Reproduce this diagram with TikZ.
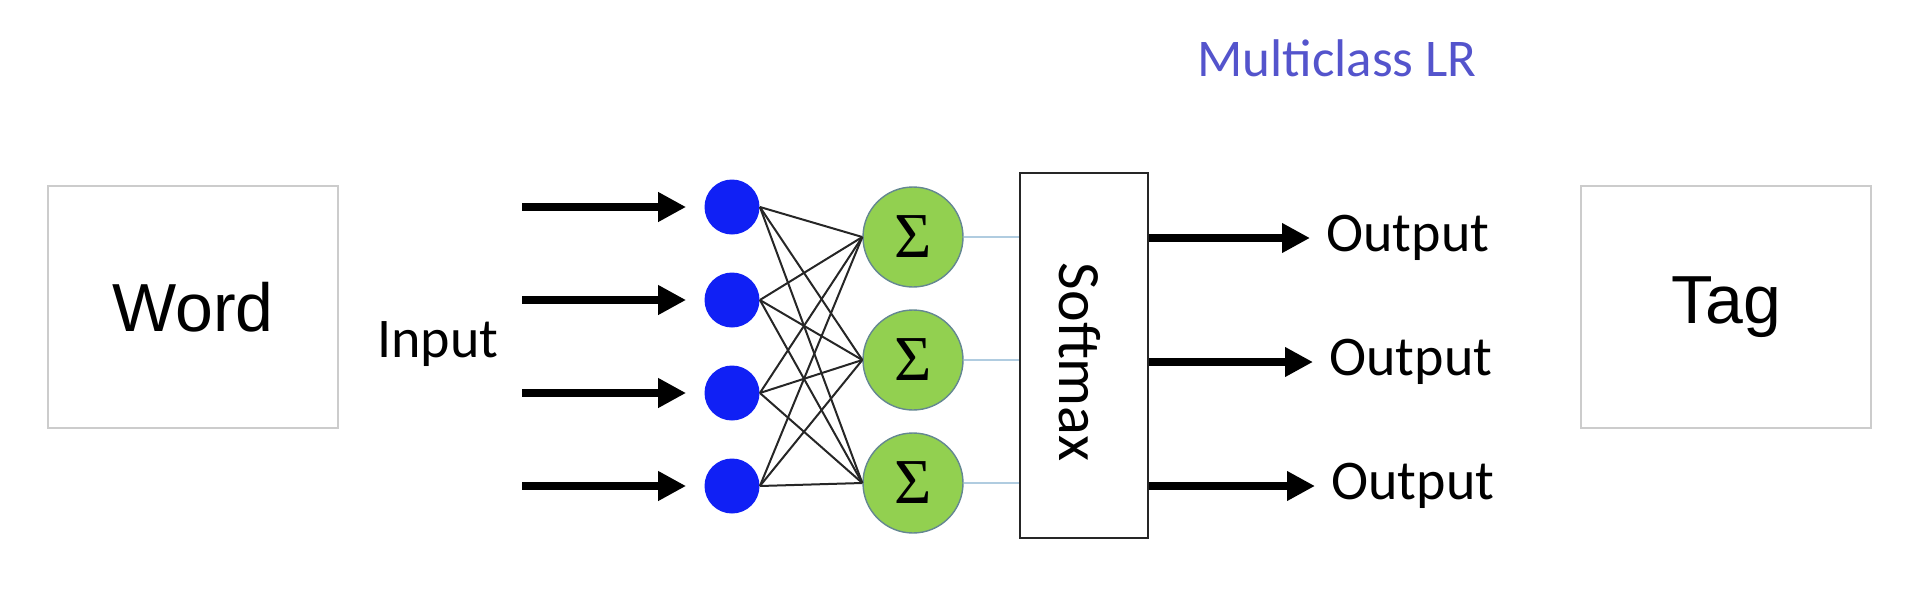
\documentclass[tikz,border=0pt]{standalone}
\usepackage{fontspec}
\setmainfont{Carlito}
\newfontfamily\arialf{Liberation Sans}
\newfontfamily\timesf{Liberation Serif}
\usetikzlibrary{arrows.meta,shapes.geometric}
\definecolor{boxgray}{RGB}{204,204,204}
\definecolor{nodeblue}{RGB}{16,32,245}
\definecolor{sumgreen}{RGB}{146,208,80}
\definecolor{sumedge}{RGB}{100,135,145}
\definecolor{linkblue}{RGB}{176,204,224}
\definecolor{titleblue}{RGB}{84,84,204}
\tikzset{
  bigbox/.style={draw=boxgray,line width=0.8pt,rectangle,minimum width=145pt,minimum height=121pt,inner sep=0pt,font=\arialf\fontsize{34}{40}\selectfont},
  innode/.style={circle,fill=nodeblue,draw=none,minimum size=27.5pt,inner sep=0pt},
  sumnode/.style={circle,fill=sumgreen,draw=sumedge,line width=0.7pt,minimum size=50pt,inner sep=0pt,font=\timesf\fontsize{32}{36}\selectfont},
  smbox/.style={draw=black!85,line width=1pt,rectangle,minimum width=64pt,minimum height=182.5pt,inner sep=0pt},
  lbl/.style={font=\fontsize{28}{32}\selectfont,inner sep=0pt},
  thickarr/.style={line width=4pt,-{Triangle[length=14pt,width=14pt]}},
  weight/.style={line width=1pt,black!85},
  link/.style={line width=0.8pt,linkblue}
}
\begin{document}
\begin{tikzpicture}[x=0.5pt,y=-0.5pt]
\useasboundingbox (0,0) rectangle (1921,594);
% boxes
\node[bigbox] (word) at (193,307) {Word};
\node[bigbox] (tag) at (1726,307) {Tag};
% title
\node[font=\fontsize{26.5}{30}\selectfont,text=titleblue,inner sep=0pt] (title) at (1337,58) {Multiclass LR};
% input label
\node[lbl] (inlbl) at (438,344) {Input};
% input nodes
\node[innode] (b1) at (732,207) {};
\node[innode] (b2) at (732,300) {};
\node[innode] (b3) at (732,393) {};
\node[innode] (b4) at (732,486) {};
% sum nodes
\node[sumnode] (g1) at (913,237) {Σ};
\node[sumnode] (g2) at (913,360) {Σ};
\node[sumnode] (g3) at (913,483) {Σ};
% softmax
\node[smbox] (sm) at (1084,355.5) {};
\node[font=\fontsize{30}{34}\selectfont,rotate=-90,inner sep=0pt] (smtext) at (1080,362) {Softmax};
% outputs
\node[lbl,anchor=west] (o1) at (1326,238) {Output};
\node[lbl,anchor=west] (o2) at (1329,362) {Output};
\node[lbl,anchor=west] (o3) at (1331,486) {Output};
% input arrows
\coordinate (i1) at (522,207);
\coordinate (i2) at (522,300);
\coordinate (i3) at (522,393);
\coordinate (i4) at (522,486);
\foreach \k in {1,2,3,4}{
  \draw[thickarr,shorten >=9pt] (i\k) -- (b\k.west);
}
% weights
\foreach \k in {1,2,3,4}{
  \foreach \j in {1,2,3}{
    \draw[weight] (b\k.east) -- (g\j.west);
  }
}
% links to softmax
\foreach \j in {1,2,3}{
  \draw[link] (g\j.east) -- (g\j -| sm.west);
}
% output arrows
\foreach \j in {1,2,3}{
  \draw[thickarr,shorten >=8pt] (sm.east |- o\j.west) -- (o\j.west);
}
\end{tikzpicture}
\end{document}
